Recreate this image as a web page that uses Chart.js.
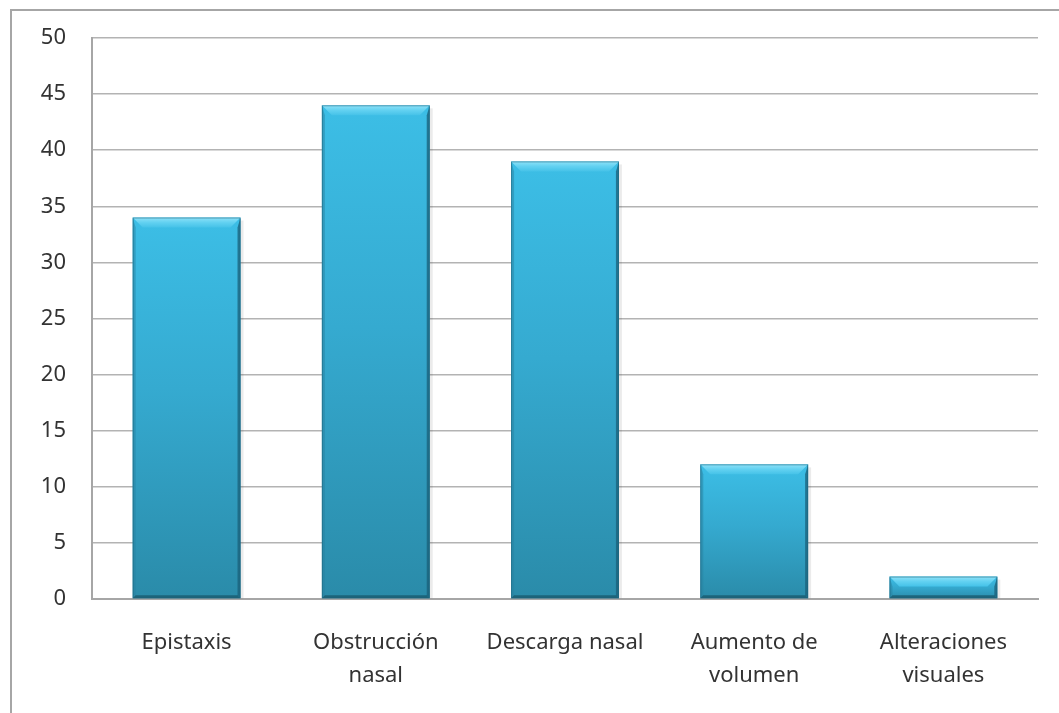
<!DOCTYPE html>
<html>
<head>
<meta charset="utf-8">
<script src="https://cdn.jsdelivr.net/npm/chart.js@4/dist/chart.umd.min.js"></script>
<style>
  html, body { margin: 0; padding: 0; background: #fff; overflow: hidden; }
  #marco { position: absolute; left: 10px; top: 9px; width: 1100px; height: 800px;
           border-top: 2px solid #a6a6a6; border-left: 2px solid #a6a6a6; }
  #wrap { position: absolute; left: 0; top: 0; width: 1059px; height: 713px; }
</style>
</head>
<body>
<div id="marco"></div>
<div id="wrap"><canvas id="sintomas" width="1059" height="713"></canvas></div>
<script>
// síntomas y número de casos
const categorias = [
  'Epistaxis',
  ['Obstrucción', 'nasal'],
  'Descarga nasal',
  ['Aumento de', 'volumen'],
  ['Alteraciones', 'visuales']
];
const casos = [34, 44, 39, 12, 2];
const ejeY = { min: 0, max: 50, paso: 5 };

const fuente = { family: '"Noto Sans", sans-serif', size: 22, lineHeight: 1.5 };

// degradado de cada barra, de arriba (claro) a abajo (oscuro)
function colorBarra(context) {
  const chart = context.chart;
  const y = chart.scales.y;
  if (!y || !chart.chartArea || context.parsed == null) return '#37acd2';
  const top = y.getPixelForValue(context.parsed.y);
  const base = y.getPixelForValue(0);
  if (!isFinite(top) || !isFinite(base) || base - top < 1) return '#37acd2';
  const g = chart.ctx.createLinearGradient(0, top, 0, base);
  g.addColorStop(0, '#3cbee6');
  g.addColorStop(0.45, '#35aad0');
  g.addColorStop(1, '#2a8ba9');
  return g;
}

// biselado de las barras (borde superior claro, laterales oscuros)
const bisel = {
  id: 'bisel',
  afterDatasetsDraw(chart) {
    const ctx = chart.ctx;
    chart.getDatasetMeta(0).data.forEach((bar) => {
      const p = bar.getProps(['x', 'y', 'base', 'width'], true);
      const l = p.x - p.width / 2, r = p.x + p.width / 2;
      const t = p.y, b = p.base;
      const h = b - t;
      const bt = Math.min(10, h / 2.2), bs = 3;
      ctx.save();
      // franja superior
      let g = ctx.createLinearGradient(0, t, 0, t + bt);
      g.addColorStop(0, '#8fe2f8');
      g.addColorStop(0.5, '#62d1f1');
      g.addColorStop(1, '#45c2e8');
      ctx.fillStyle = g;
      ctx.beginPath();
      ctx.moveTo(l, t); ctx.lineTo(r, t);
      ctx.lineTo(r - bt, t + bt); ctx.lineTo(l + bt, t + bt);
      ctx.closePath(); ctx.fill();
      // lateral izquierdo
      ctx.fillStyle = 'rgba(40,130,160,0.5)';
      ctx.beginPath();
      ctx.moveTo(l, t); ctx.lineTo(l + bs, t + bt);
      ctx.lineTo(l + bs, b - bs); ctx.lineTo(l, b);
      ctx.closePath(); ctx.fill();
      // lateral derecho
      ctx.fillStyle = 'rgba(25,95,120,0.75)';
      ctx.beginPath();
      ctx.moveTo(r, t); ctx.lineTo(r - bs, t + bt);
      ctx.lineTo(r - bs, b - bs); ctx.lineTo(r, b);
      ctx.closePath(); ctx.fill();
      // borde inferior
      ctx.fillStyle = 'rgba(25,90,110,0.8)';
      ctx.beginPath();
      ctx.moveTo(l, b); ctx.lineTo(l + bs, b - bs);
      ctx.lineTo(r - bs, b - bs); ctx.lineTo(r, b);
      ctx.closePath(); ctx.fill();
      // contorno fino
      ctx.strokeStyle = 'rgba(30,100,125,0.55)';
      ctx.lineWidth = 1;
      ctx.strokeRect(l + 0.5, t + 0.5, p.width - 1, h - 1);
      // sombra suave a la derecha
      ctx.fillStyle = 'rgba(0,0,0,0.08)';
      ctx.fillRect(r, t + 3, 3, h - 3);
      ctx.restore();
    });
  }
};

const ctx = document.getElementById('sintomas').getContext('2d');
const chart = new Chart(ctx, {
  type: 'bar',
  data: {
    labels: categorias,
    datasets: [{
      data: casos,
      backgroundColor: colorBarra,
      borderWidth: 0,
      barPercentage: 0.57,
      categoryPercentage: 1
    }]
  },
  options: {
    responsive: false,
    animation: false,
    layout: { padding: { top: 38, right: 21, left: 0, bottom: 0 } },
    plugins: { legend: { display: false }, tooltip: { enabled: false } },
    scales: {
      x: {
        grid: { display: false, drawTicks: false },
        border: { display: true, color: '#a6a6a6', width: 2 },
        ticks: { color: '#333333', font: fuente, padding: 27, maxRotation: 0, autoSkip: false },
        afterFit(scale) { scale.height = 114; }
      },
      y: {
        min: ejeY.min,
        max: ejeY.max,
        grid: { color: '#b3b3b3', lineWidth: 1.5, drawTicks: false },
        border: { display: true, color: '#a6a6a6', width: 2 },
        ticks: { stepSize: ejeY.paso, color: '#333333', font: fuente, padding: 26 },
        afterFit(scale) {
          scale.width = 92;
          // el padding de las etiquetas no debe empujar el área del gráfico
          scale.paddingTop = 0;
          scale.paddingBottom = 0;
        }
      }
    }
  },
  plugins: [bisel]
});
</script>
</body>
</html>
